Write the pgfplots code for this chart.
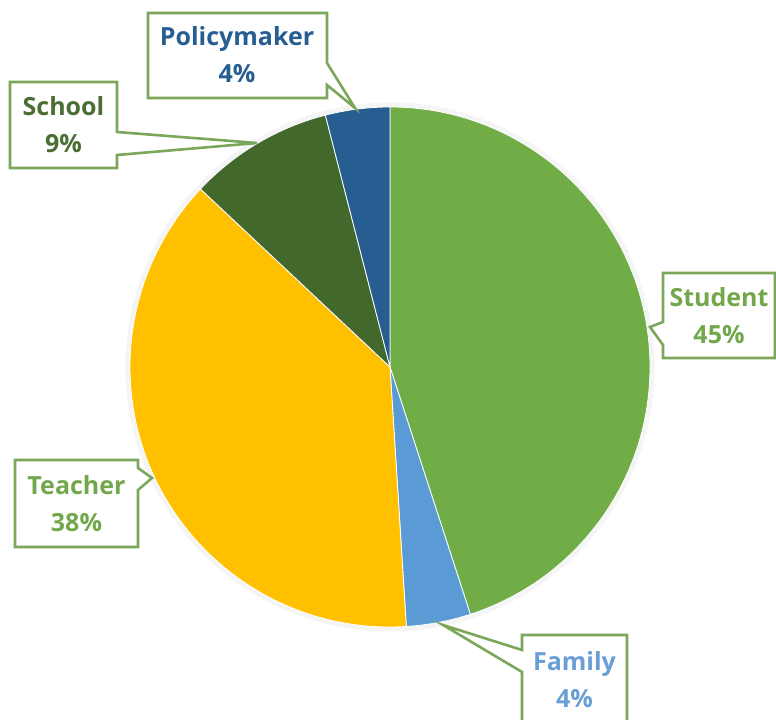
\documentclass[border=0pt]{standalone}
\usepackage{pgfplots}
\pgfplotsset{compat=1.18}
\usepackage{pgfplotstable}
\usepackage{fontspec}
\setmainfont{Open Sans}

\definecolor{cStudent}{HTML}{70AD47}
\definecolor{cFamily}{HTML}{5B9BD5}
\definecolor{cTeacher}{HTML}{FFC000}
\definecolor{cSchool}{HTML}{43682B}
\definecolor{cPolicy}{HTML}{265E92}
\definecolor{frame}{HTML}{7AA75A}
\definecolor{tGreen}{HTML}{72A84B}
\definecolor{tSchool}{HTML}{4B6E33}
\definecolor{tFamily}{HTML}{6A9FD6}

% shares in percent, clockwise from 12 o'clock
\pgfplotstableread{
label value
Student 45
Family 4
Teacher 38
School 9
Policymaker 4
}\piedata

\begin{document}
\begin{tikzpicture}
% start / end angle of every slice
\xdef\cum{0}
\pgfplotsforeachungrouped \i in {0,...,4}{%
  \pgfplotstablegetelem{\i}{value}\of\piedata
  \pgfmathsetmacro\a{90-3.6*\cum}
  \pgfmathsetmacro\b{\a-3.6*\pgfplotsretval}
  \expandafter\xdef\csname pieA\i\endcsname{\a}%
  \expandafter\xdef\csname pieB\i\endcsname{\b}%
  \pgfmathsetmacro\c{\cum+\pgfplotsretval}
  \xdef\cum{\c}%
}
\newcommand\slice[2]{%
  \fill[#2, draw=white, line width=0.8bp] (axis cs:390,367)
    -- ++(\csname pieA#1\endcsname:260bp)
    arc[start angle=\csname pieA#1\endcsname, end angle=\csname pieB#1\endcsname, radius=260bp]
    -- cycle;}
\begin{axis}[
    width=776bp, height=720bp, scale only axis,
    xmin=0, xmax=776, ymin=0, ymax=720,
    y dir=reverse,
    hide axis, clip=false,
]
\draw[black!4, line width=5bp] (axis cs:390,367) circle[radius=262bp];
\slice{0}{cStudent}
\slice{1}{cFamily}
\slice{2}{cTeacher}
\slice{3}{cSchool}
\slice{4}{cPolicy}

\tikzset{callout/.style={draw=frame, line width=2.6bp, fill=white, line join=miter},
         lab/.style={font=\fontsize{25bp}{37bp}\selectfont\bfseries, align=center}}
% Policymaker
\draw[callout] (axis cs:148,13) -- (axis cs:327,13) -- (axis cs:327,63) -- (axis cs:355,108)
  -- (axis cs:327,85) -- (axis cs:327,98) -- (axis cs:148,98) -- cycle;
\node[lab, text=cPolicy] at (axis cs:237,55) {Policymaker\\4\%};
% School
\draw[callout] (axis cs:10,82) -- (axis cs:117,82) -- (axis cs:117,132) -- (axis cs:257,143)
  -- (axis cs:117,155) -- (axis cs:117,168) -- (axis cs:10,168) -- cycle;
\node[lab, text=tSchool] at (axis cs:63.5,125) {School\\9\%};
% Student
\draw[callout] (axis cs:663,273) -- (axis cs:775,273) -- (axis cs:775,358) -- (axis cs:663,358)
  -- (axis cs:663,345) -- (axis cs:650,327) -- (axis cs:663,322) -- cycle;
\node[lab, text=tGreen] at (axis cs:719,316) {Student\\45\%};
% Teacher
\draw[callout] (axis cs:15,460) -- (axis cs:138,460) -- (axis cs:138,468) -- (axis cs:152,478)
  -- (axis cs:138,490) -- (axis cs:138,547) -- (axis cs:15,547) -- cycle;
\node[lab, text=tGreen] at (axis cs:76.5,503.5) {Teacher\\38\%};
% Family
\draw[callout] (axis cs:522,635) -- (axis cs:627,635) -- (axis cs:627,730) -- (axis cs:522,730)
  -- (axis cs:522,672) -- (axis cs:443,625) -- (axis cs:522,650) -- cycle;
\node[lab, text=tFamily] at (axis cs:574.5,680) {Family\\4\%};
\end{axis}
\pgfresetboundingbox
\useasboundingbox (current axis.south west) rectangle (current axis.north east);
\end{tikzpicture}
\end{document}
